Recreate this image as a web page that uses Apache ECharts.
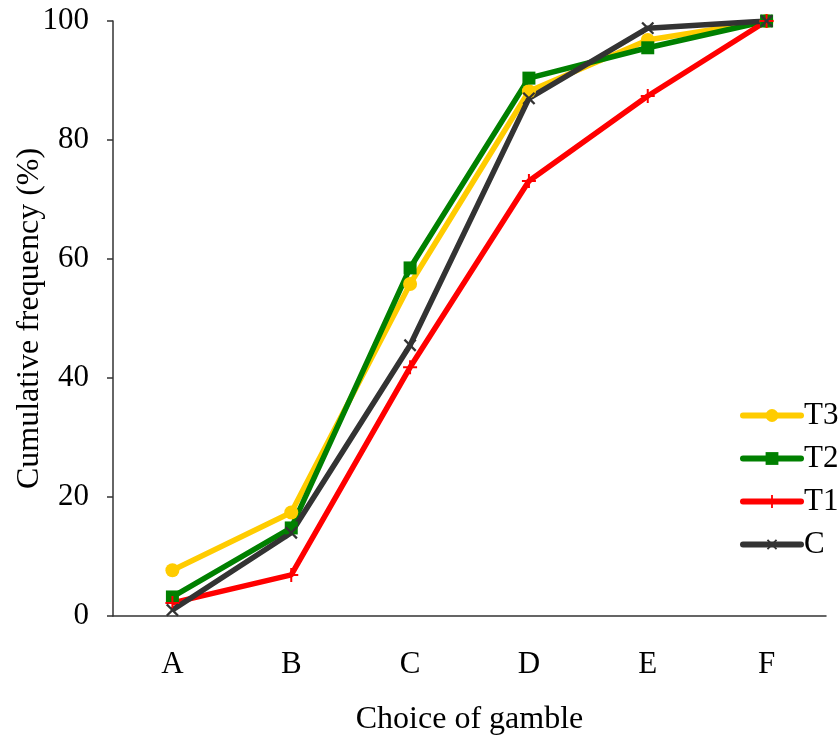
<!DOCTYPE html>
<html>
<head>
<meta charset="utf-8">
<script src="https://cdn.jsdelivr.net/npm/echarts@6/dist/echarts.min.js"></script>
<style>html,body{margin:0;padding:0;background:#fff}#main{width:839px;height:742px}</style>
</head>
<body>
<div id="main"></div>
<script>
var categories = ['A', 'B', 'C', 'D', 'E', 'F'];
var t3 = [7.7, 17.4, 55.8, 88.2, 96.8, 100];
var t2 = [3.2, 14.8, 58.5, 90.4, 95.5, 100];
var t1 = [2.2, 6.9, 41.8, 73.1, 87.4, 100];
var ctrl = [1.0, 14.0, 45.5, 87.0, 98.8, 100];

var plusPath = 'path://M-1,-7H1V-1H7V1H1V7H-1V1H-7V-1H-1Z';
var font = 'Liberation Serif';

var myChart = echarts.init(document.getElementById('main'));
var option = {
  backgroundColor: '#fff',
  animation: false,
  grid: { left: 113, right: 13, top: 21, bottom: 126, outerBoundsMode: 'none', containLabel: false },
  legend: {
    orient: 'vertical',
    left: 740,
    top: 400,
    padding: 0,
    itemWidth: 58,
    itemHeight: 16,
    itemGap: 12,
    lineStyle: { width: 6, cap: 'round' },
    textStyle: { fontFamily: font, fontSize: 31, color: '#000', padding: [0, 0, 0, -2] },
    data: ['T3', 'T2', 'T1', 'C']
  },
  xAxis: {
    type: 'category',
    data: categories,
    boundaryGap: true,
    name: 'Choice of gamble',
    nameLocation: 'middle',
    nameGap: 88,
    nameMoveOverlap: false,
    nameTextStyle: { fontFamily: font, fontSize: 32, color: '#000' },
    axisLine: { lineStyle: { color: '#333', width: 1.5 } },
    axisTick: { length: 10, lineStyle: { color: '#333', width: 1.5 } },
    axisLabel: { fontFamily: font, fontSize: 31, color: '#000', margin: 33 }
  },
  yAxis: {
    type: 'value',
    min: 0,
    max: 100,
    interval: 20,
    name: 'Cumulative frequency (%)',
    nameLocation: 'middle',
    nameGap: 67,
    nameMoveOverlap: false,
    nameTextStyle: { fontFamily: font, fontSize: 32, color: '#000' },
    splitLine: { show: false },
    axisLine: { show: true, lineStyle: { color: '#333', width: 1.5 } },
    axisTick: { show: true, length: 6, lineStyle: { color: '#333', width: 1.5 } },
    axisLabel: { fontFamily: font, fontSize: 31, color: '#000', margin: 24 }
  },
  series: [
    {
      name: 'T3', type: 'line', data: t3, color: '#FFCC00',
      symbol: 'circle', symbolSize: 14,
      lineStyle: { width: 5.5 }
    },
    {
      name: 'T2', type: 'line', data: t2, color: '#008000',
      symbol: 'rect', symbolSize: 13,
      lineStyle: { width: 5.5 }
    },
    {
      name: 'T1', type: 'line', data: t1, color: '#FF0000',
      symbol: plusPath, symbolSize: 14,
      lineStyle: { width: 5.5 }
    },
    {
      name: 'C', type: 'line', data: ctrl, color: '#333333',
      symbol: plusPath, symbolSize: 16, symbolRotate: 45,
      lineStyle: { width: 5.5 }
    }
  ]
};
myChart.setOption(option);
</script>
</body>
</html>
